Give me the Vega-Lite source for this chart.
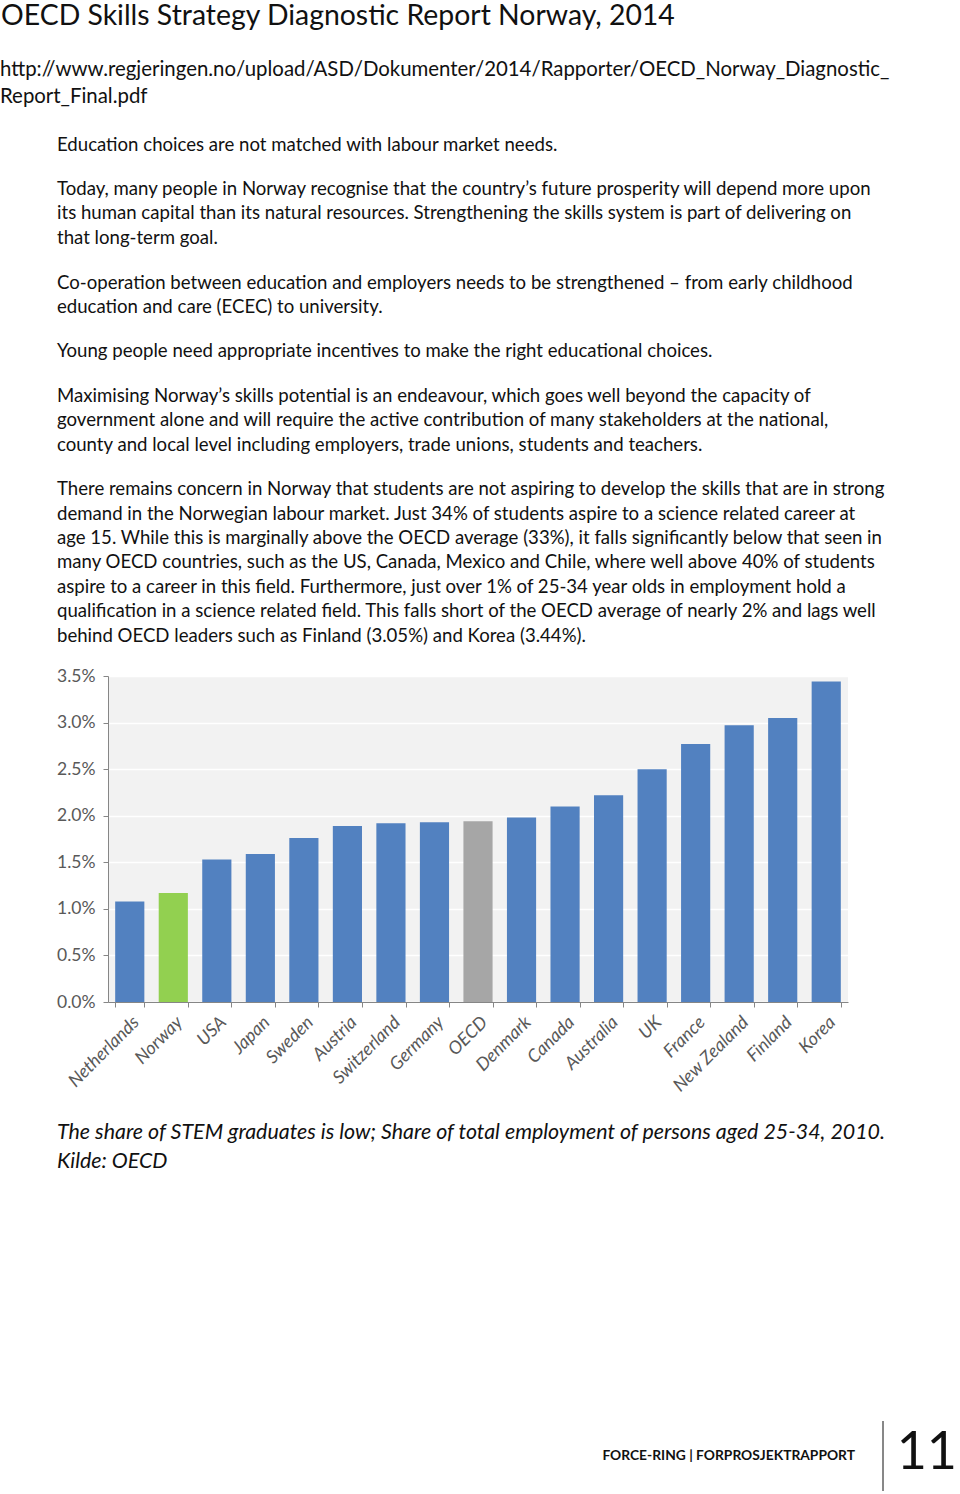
{
  "$schema": "https://vega.github.io/schema/vega-lite/v6.json",
  "padding": 0,
  "background": "white",
  "config": {"view": {"stroke": null}, "concat": {"spacing": 0}},
  "spacing": 0,
  "datasets": {
    "top": [
      {"kind": "title", "pos": 16, "text": "OECD Skills Strategy Diagnostic Report Norway, 2014"},
      {"kind": "url", "pos": 70, "text": "http://www.regjeringen.no/upload/ASD/Dokumenter/2014/Rapporter/OECD_Norway_Diagnostic_"},
      {"kind": "url", "pos": 97, "text": "Report_Final.pdf"},
      {"kind": "body", "pos": 145, "text": "Education choices are not matched with labour market needs."},
      {"kind": "body", "pos": 189, "text": "Today, many people in Norway recognise that the country’s future prosperity will depend more upon"},
      {"kind": "body", "pos": 213, "text": "its human capital than its natural resources. Strengthening the skills system is part of delivering on"},
      {"kind": "body", "pos": 238, "text": "that long-term goal."},
      {"kind": "body", "pos": 283, "text": "Co-operation between education and employers needs to be strengthened – from early childhood"},
      {"kind": "body", "pos": 307, "text": "education and care (ECEC) to university."},
      {"kind": "body", "pos": 351, "text": "Young people need appropriate incentives to make the right educational choices."},
      {"kind": "body", "pos": 396, "text": "Maximising Norway’s skills potential is an endeavour, which goes well beyond the capacity of"},
      {"kind": "body", "pos": 420, "text": "government alone and will require the active contribution of many stakeholders at the national,"},
      {"kind": "body", "pos": 445, "text": "county and local level including employers, trade unions, students and teachers."},
      {"kind": "body", "pos": 489, "text": "There remains concern in Norway that students are not aspiring to develop the skills that are in strong"},
      {"kind": "body", "pos": 514, "text": "demand in the Norwegian labour market. Just 34% of students aspire to a science related career at"},
      {"kind": "body", "pos": 538, "text": "age 15. While this is marginally above the OECD average (33%), it falls significantly below that seen in"},
      {"kind": "body", "pos": 562, "text": "many OECD countries, such as the US, Canada, Mexico and Chile, where well above 40% of students"},
      {"kind": "body", "pos": 587, "text": "aspire to a career in this field. Furthermore, just over 1% of 25-34 year olds in employment hold a"},
      {"kind": "body", "pos": 611, "text": "qualification in a science related field. This falls short of the OECD average of nearly 2% and lags well"},
      {"kind": "body", "pos": 636, "text": "behind OECD leaders such as Finland (3.05%) and Korea (3.44%)."}
    ],
    "bars": [
      {"country": "Netherlands", "group": "country", "share": 0.0108},
      {"country": "Norway", "group": "Norway", "share": 0.0117},
      {"country": "USA", "group": "country", "share": 0.0153},
      {"country": "Japan", "group": "country", "share": 0.0159},
      {"country": "Sweden", "group": "country", "share": 0.0176},
      {"country": "Austria", "group": "country", "share": 0.0189},
      {"country": "Switzerland", "group": "country", "share": 0.0192},
      {"country": "Germany", "group": "country", "share": 0.0193},
      {"country": "OECD", "group": "OECD", "share": 0.0194},
      {"country": "Denmark", "group": "country", "share": 0.0198},
      {"country": "Canada", "group": "country", "share": 0.021},
      {"country": "Australia", "group": "country", "share": 0.0222},
      {"country": "UK", "group": "country", "share": 0.025},
      {"country": "France", "group": "country", "share": 0.0277},
      {"country": "New Zealand", "group": "country", "share": 0.0297},
      {"country": "Finland", "group": "country", "share": 0.0305},
      {"country": "Korea", "group": "country", "share": 0.0344}
    ],
    "bottom": [
      {"kind": "caption", "pos": 1132, "text": "The share of STEM graduates is low; Share of total employment of persons aged 25-34, 2010."},
      {"kind": "caption", "pos": 1161, "text": "Kilde: OECD"},
      {"kind": "footer", "pos": 1455, "text": "FORCE-RING | FORPROSJEKTRAPPORT"},
      {"kind": "page", "pos": 1452, "text": "11"}
    ],
    "divider": [{"from": 1420, "to": 1490}]
  },
  "vconcat": [
    {
      "width": 852,
      "height": 667,
      "data": {"name": "top"},
      "layer": [
        {
          "transform": [{"filter": "datum.kind === 'title'"}],
          "mark": {"type": "text", "align": "left", "baseline": "middle", "font": "Lato", "fontSize": 28.4, "color": "#111111"},
          "encoding": {
            "x": {"datum": 1, "type": "quantitative", "scale": {"domain": [108, 960], "nice": false, "zero": false}, "axis": null},
            "y": {"field": "pos", "type": "quantitative", "scale": {"domain": [0, 667], "nice": false, "zero": false, "reverse": true}, "axis": null},
            "text": {"field": "text"}
          }
        },
        {
          "transform": [{"filter": "datum.kind === 'url'"}],
          "mark": {"type": "text", "align": "left", "baseline": "middle", "font": "Lato", "fontSize": 20.4, "color": "#111111"},
          "encoding": {
            "x": {"datum": 0, "type": "quantitative", "scale": {"domain": [108, 960], "nice": false, "zero": false}, "axis": null},
            "y": {"field": "pos", "type": "quantitative", "scale": {"domain": [0, 667], "nice": false, "zero": false, "reverse": true}, "axis": null},
            "text": {"field": "text"}
          }
        },
        {
          "transform": [{"filter": "datum.kind === 'body'"}],
          "mark": {"type": "text", "align": "left", "baseline": "middle", "font": "Lato", "fontSize": 18.6, "color": "#111111"},
          "encoding": {
            "x": {"datum": 57, "type": "quantitative", "scale": {"domain": [108, 960], "nice": false, "zero": false}, "axis": null},
            "y": {"field": "pos", "type": "quantitative", "scale": {"domain": [0, 667], "nice": false, "zero": false, "reverse": true}, "axis": null},
            "text": {"field": "text"}
          }
        }
      ]
    },
    {
      "width": 740,
      "height": 326,
      "view": {"fill": "#f2f2f2", "stroke": null},
      "data": {"name": "bars"},
      "mark": {"type": "bar"},
      "encoding": {
        "x": {
          "field": "country", "type": "nominal", "sort": null,
          "scale": {"paddingInner": 0.33, "paddingOuter": 0.165},
          "axis": {"title": null, "labelAngle": -45, "labelFont": "Lato", "labelFontStyle": "italic", "labelFontSize": 18, "labelColor": "#595959", "tickBand": "extent", "tickColor": "#868686", "domainColor": "#868686", "tickSize": 5, "labelPadding": 6, "grid": false}
        },
        "y": {
          "field": "share", "type": "quantitative",
          "scale": {"domain": [0, 0.035], "nice": false},
          "axis": {"title": null, "format": ".1%", "values": [0, 0.005, 0.01, 0.015, 0.02, 0.025, 0.03, 0.035], "gridColor": "#ffffff", "gridWidth": 1.5, "domainColor": "#868686", "tickColor": "#868686", "tickSize": 5, "labelPadding": 8, "labelFont": "Lato", "labelFontSize": 17.5, "labelColor": "#595959", "minExtent": 108, "maxExtent": 108}
        },
        "color": {"field": "group", "type": "nominal", "scale": {"domain": ["country", "Norway", "OECD"], "range": ["#5281c0", "#92d050", "#a6a6a6"]}, "legend": null}
      }
    },
    {
      "width": 852,
      "height": 399,
      "layer": [
        {
          "data": {"name": "bottom"},
          "transform": [{"filter": "datum.kind === 'caption'"}],
          "mark": {"type": "text", "align": "left", "baseline": "middle", "font": "Lato", "fontStyle": "italic", "fontSize": 21.4, "color": "#111111"},
          "encoding": {
            "x": {"datum": 57, "type": "quantitative", "scale": {"domain": [108, 960], "nice": false, "zero": false}, "axis": null},
            "y": {"field": "pos", "type": "quantitative", "scale": {"domain": [1095, 1494], "nice": false, "zero": false, "reverse": true}, "axis": null},
            "text": {"field": "text"}
          }
        },
        {
          "data": {"name": "bottom"},
          "transform": [{"filter": "datum.kind === 'footer'"}],
          "mark": {"type": "text", "align": "right", "baseline": "middle", "font": "Lato", "fontWeight": "bold", "fontSize": 13.8, "color": "#111111"},
          "encoding": {
            "x": {"datum": 855, "type": "quantitative", "scale": {"domain": [108, 960], "nice": false, "zero": false}, "axis": null},
            "y": {"field": "pos", "type": "quantitative", "scale": {"domain": [1095, 1494], "nice": false, "zero": false, "reverse": true}, "axis": null},
            "text": {"field": "text"}
          }
        },
        {
          "data": {"name": "bottom"},
          "transform": [{"filter": "datum.kind === 'page'"}],
          "mark": {"type": "text", "align": "right", "baseline": "middle", "font": "Lato", "fontSize": 52, "color": "#111111"},
          "encoding": {
            "x": {"datum": 957, "type": "quantitative", "scale": {"domain": [108, 960], "nice": false, "zero": false}, "axis": null},
            "y": {"field": "pos", "type": "quantitative", "scale": {"domain": [1095, 1494], "nice": false, "zero": false, "reverse": true}, "axis": null},
            "text": {"field": "text"}
          }
        },
        {
          "data": {"name": "divider"},
          "mark": {"type": "rule", "color": "#111111", "strokeWidth": 1},
          "encoding": {
            "x": {"datum": 883, "type": "quantitative", "scale": {"domain": [108, 960], "nice": false, "zero": false}, "axis": null},
            "y": {"field": "from", "type": "quantitative", "scale": {"domain": [1095, 1494], "nice": false, "zero": false, "reverse": true}, "axis": null},
            "y2": {"field": "to"}
          }
        }
      ]
    }
  ]
}
